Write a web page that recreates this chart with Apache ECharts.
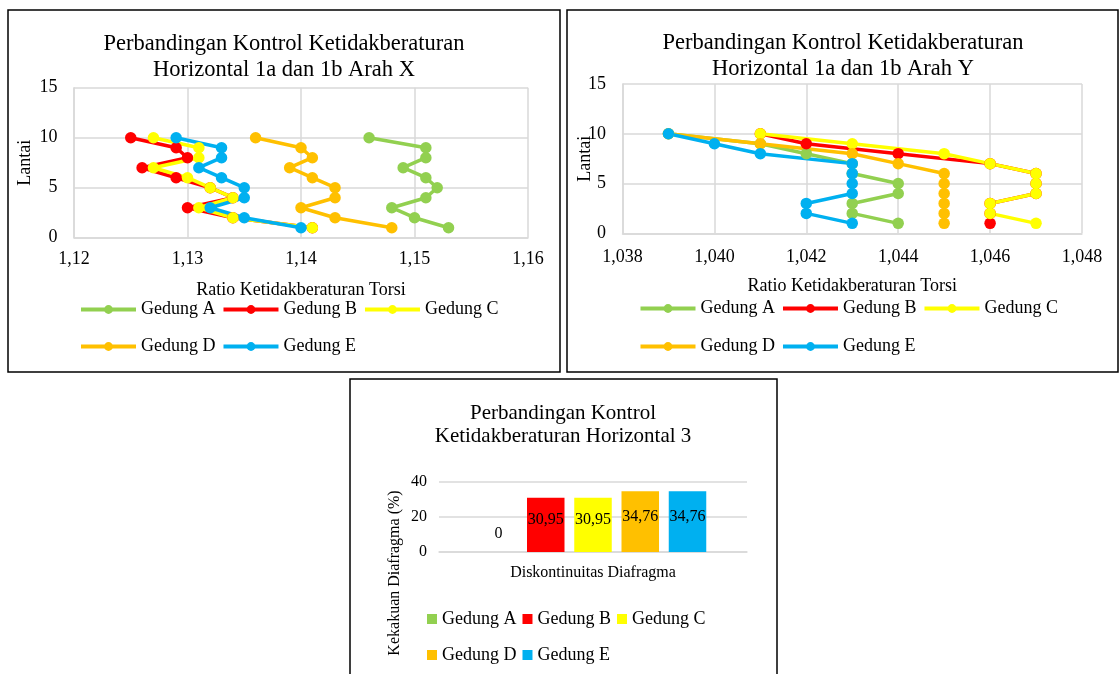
<!DOCTYPE html>
<html><head><meta charset="utf-8">
<script src="https://cdn.jsdelivr.net/npm/echarts@6/dist/echarts.min.js"></script>
<style>html,body{margin:0;padding:0;background:#fff}#c{width:1120px;height:674px}</style>
</head><body><div id="c"></div>
<script>
// ---------- data ----------
const buildingNames = ['Gedung A', 'Gedung B', 'Gedung C', 'Gedung D', 'Gedung E'];
const buildingColors = ['#92D050', '#FF0000', '#FFFF00', '#FFC000', '#00B0F0'];
const floors = [1, 2, 3, 4, 5, 6, 7, 8, 9, 10];

// Arah X: torsion irregularity ratio per floor (floor 1..10)
const arahX_A = [1.153, 1.150, 1.148, 1.151, 1.152, 1.151, 1.149, 1.151, 1.151, 1.146];
const arahX_B = [1.141, 1.134, 1.130, 1.134, 1.132, 1.129, 1.126, 1.130, 1.129, 1.125];
const arahX_C = [1.141, 1.134, 1.131, 1.134, 1.132, 1.130, 1.127, 1.131, 1.131, 1.127];
const arahX_D = [1.148, 1.143, 1.140, 1.143, 1.143, 1.141, 1.139, 1.141, 1.140, 1.136];
const arahX_E = [1.140, 1.135, 1.132, 1.135, 1.135, 1.133, 1.131, 1.133, 1.133, 1.129];

// Arah Y
const arahY_A = [1.044, 1.043, 1.043, 1.044, 1.044, 1.043, 1.043, 1.042, 1.041, 1.039];
const arahY_B = [1.046, 1.046, 1.046, 1.047, 1.047, 1.047, 1.046, 1.044, 1.042, 1.041];
const arahY_C = [1.047, 1.046, 1.046, 1.047, 1.047, 1.047, 1.046, 1.045, 1.043, 1.041];
const arahY_D = [1.045, 1.045, 1.045, 1.045, 1.045, 1.045, 1.044, 1.043, 1.041, 1.039];
const arahY_E = [1.043, 1.042, 1.042, 1.043, 1.043, 1.043, 1.043, 1.041, 1.040, 1.039];

// Horizontal 3
const barCategories = ['Diskontinuitas Diafragma'];
const diafragmaValues = [0, 30.95, 30.95, 34.76, 34.76];

// axis ranges
const xRange1 = { min: 1.12, max: 1.16, interval: 0.01, decimals: 2 };
const xRange2 = { min: 1.038, max: 1.048, interval: 0.002, decimals: 3 };
const floorRange = { min: 0, max: 15, interval: 5 };
const barRange = { min: 0, max: 40, interval: 20 };

// ---------- chart ----------
const FONT = '"Liberation Serif", "Times New Roman", serif';
const GRID_COLOR = '#D9D9D9';
const TXT = '#000';
const arahX = [arahX_A, arahX_B, arahX_C, arahX_D, arahX_E];
const arahY = [arahY_A, arahY_B, arahY_C, arahY_D, arahY_E];

function comma(v, d) { return v.toFixed(d).replace('.', ','); }

function valueXAxis(grid, r, gap, margin) {
  return {
    type: 'value', gridIndex: grid, min: r.min, max: r.max, interval: r.interval,
    axisLabel: { formatter: v => comma(v, r.decimals), fontSize: 18, fontFamily: FONT, color: TXT, margin: margin },
    axisLine: { show: true, lineStyle: { color: GRID_COLOR, width: 1.5 } },
    axisTick: { show: false },
    splitLine: { show: true, lineStyle: { color: GRID_COLOR, width: 1.5 } },
    name: 'Ratio Ketidakberaturan Torsi', nameLocation: 'middle', nameGap: gap,
    nameMoveOverlap: false,
    nameTextStyle: { fontSize: 18, fontFamily: FONT, color: TXT }
  };
}
function floorYAxis(grid, gap) {
  return {
    type: 'value', gridIndex: grid, min: floorRange.min, max: floorRange.max, interval: floorRange.interval,
    axisLabel: { fontSize: 18, fontFamily: FONT, color: TXT, margin: 16.5 },
    axisLine: { show: true, lineStyle: { color: GRID_COLOR, width: 1.5 } },
    axisTick: { show: false },
    splitLine: { show: true, lineStyle: { color: GRID_COLOR, width: 1.5 } },
    name: 'Lantai', nameLocation: 'middle', nameGap: gap, nameRotate: 90,
    nameMoveOverlap: false,
    nameTextStyle: { fontSize: 18, fontFamily: FONT, color: TXT }
  };
}

const series = [];
[arahX, arahY].forEach((set, g) => {
  set.forEach((vals, i) => {
    series.push({
      type: 'line', name: buildingNames[i], xAxisIndex: g, yAxisIndex: g,
      data: floors.map((f, k) => [vals[k], f]),
      symbol: 'circle', symbolSize: 11.5,
      lineStyle: { width: 3.5, color: buildingColors[i] },
      itemStyle: { color: buildingColors[i] },
      emphasis: { disabled: true },
      animation: false
    });
  });
});
diafragmaValues.forEach((v, i) => {
  series.push({
    type: 'bar', name: buildingNames[i], xAxisIndex: 2, yAxisIndex: 2,
    data: [v], barWidth: 37.5, barGap: '26%',
    itemStyle: { color: buildingColors[i] },
    label: {
      show: true,
      position: v === 0 ? 'top' : 'inside',
      distance: 10,
      offset: v === 0 ? [0, 0] : [0, -5],
      formatter: p => String(p.value).replace('.', ','),
      fontSize: 16, fontFamily: FONT, color: TXT
    },
    emphasis: { disabled: true },
    animation: false
  });
});

function lineLegend(names, left, top) {
  return {
    data: names, left: left, top: top, padding: 0, orient: 'horizontal',
    itemWidth: 55, itemHeight: 11, itemGap: 6,
    lineStyle: { width: 4 },
    textStyle: { fontSize: 18, fontFamily: FONT, color: TXT },
    selectedMode: false
  };
}
function barLegend(names, left, top) {
  return {
    data: names, left: left, top: top, padding: 0, orient: 'horizontal', icon: 'rect',
    itemWidth: 10, itemHeight: 10, itemGap: 6,
    textStyle: { fontSize: 18, fontFamily: FONT, color: TXT },
    selectedMode: false
  };
}

const option = {
  backgroundColor: '#fff',
  animation: false,
  textStyle: { fontFamily: FONT },
  title: [
    { text: 'Perbandingan Kontrol Ketidakberaturan\nHorizontal 1a dan 1b Arah X', left: 284, top: 31, padding: 0, textAlign: 'center',
      textStyle: { fontSize: 22.5, lineHeight: 26, fontWeight: 'normal', fontFamily: FONT, color: TXT } },
    { text: 'Perbandingan Kontrol Ketidakberaturan\nHorizontal 1a dan 1b Arah Y', left: 843, top: 30, padding: 0, textAlign: 'center',
      textStyle: { fontSize: 22.5, lineHeight: 26, fontWeight: 'normal', fontFamily: FONT, color: TXT } },
    { text: 'Perbandingan Kontrol\nKetidakberaturan Horizontal 3', left: 563, top: 401.5, padding: 0, textAlign: 'center',
      textStyle: { fontSize: 21, lineHeight: 23.5, fontWeight: 'normal', fontFamily: FONT, color: TXT } }
  ],
  legend: [
    lineLegend(buildingNames.slice(0, 3), 79, 300.5),
    lineLegend(buildingNames.slice(3), 79, 337.5),
    lineLegend(buildingNames.slice(0, 3), 638.5, 299.5),
    lineLegend(buildingNames.slice(3), 638.5, 337.5),
    barLegend(buildingNames.slice(0, 3), 427, 610),
    barLegend(buildingNames.slice(3), 427, 646)
  ],
  grid: [
    { left: 74, top: 87.7, width: 454, height: 150, outerBoundsMode: 'none', containLabel: false },
    { left: 622.5, top: 84, width: 459.5, height: 149.3, outerBoundsMode: 'none', containLabel: false },
    { left: 439, top: 482, width: 308, height: 70, outerBoundsMode: 'none', containLabel: false }
  ],
  xAxis: [
    valueXAxis(0, xRange1, 44, 13),
    valueXAxis(1, xRange2, 43.5, 14.5),
    {
      type: 'category', gridIndex: 2, data: barCategories,
      axisLabel: { fontSize: 16, fontFamily: FONT, color: TXT, margin: 13 },
      axisLine: { show: true, lineStyle: { color: GRID_COLOR, width: 1.5 } },
      axisTick: { show: false },
      splitLine: { show: false }
    }
  ],
  yAxis: [
    floorYAxis(0, 40),
    floorYAxis(1, 28.5),
    {
      type: 'value', gridIndex: 2, min: barRange.min, max: barRange.max, interval: barRange.interval,
      axisLabel: { fontSize: 16, fontFamily: FONT, color: TXT, margin: 12 },
      axisLine: { show: false },
      axisTick: { show: false },
      splitLine: { show: true, lineStyle: { color: GRID_COLOR, width: 1.5 } },
      name: 'Kekakuan Diafragma (%)', nameLocation: 'middle', nameGap: 36, nameRotate: 90,
      nameMoveOverlap: false,
      nameTextStyle: { fontSize: 16, fontFamily: FONT, color: TXT, padding: [0, 112, 0, 0] }
    }
  ],
  graphic: [
    { type: 'rect', shape: { x: 8, y: 10, width: 552, height: 362 }, style: { fill: 'none', stroke: '#000', lineWidth: 1.5 }, silent: true },
    { type: 'rect', shape: { x: 567, y: 10, width: 551, height: 362 }, style: { fill: 'none', stroke: '#000', lineWidth: 1.5 }, silent: true },
    { type: 'rect', shape: { x: 350, y: 379, width: 427, height: 320 }, style: { fill: 'none', stroke: '#000', lineWidth: 1.5 }, silent: true }
  ],
  series: series
};

const chart = echarts.init(document.getElementById('c'), null, { renderer: 'canvas' });
chart.setOption(option);
</script>
</body></html>
